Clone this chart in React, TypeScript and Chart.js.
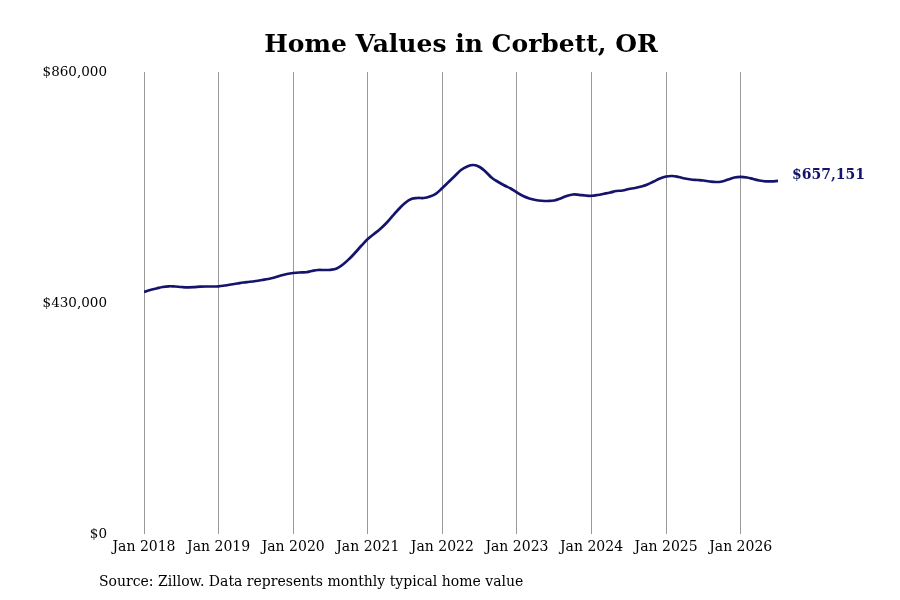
import React, { useEffect, useRef } from "react";
import { Chart, registerables } from "chart.js";

Chart.register(...registerables);

// Monthly typical home value, Jan 2018 .. Jul 2026
const startYear = 2018;
const homeValues: number[] = [
  450500, 454200, 457000, 459800, 461100, 460700, 459800, 459200, 459400, 460300, 460700, 460700,
  461100, 462600, 464400, 466300, 468200, 469500, 471000, 472800, 474700, 477500, 481200, 484000,
  485800, 486800, 487200, 489600, 491400, 491400, 491800, 494200, 501700, 511900, 524000, 537000,
  549100, 558500, 567800, 578900, 592000, 605000, 616200, 623600, 625500, 625500, 628300, 633800,
  644100, 655200, 666400, 677600, 684100, 686900, 683200, 673900, 662700, 655200, 648700, 643100,
  635700, 629200, 624500, 621700, 620300, 619900, 620800, 624500, 629200, 632000, 631400, 630100,
  629600, 631000, 633300, 635700, 638500, 639400, 642200, 644100, 646900, 650600, 656200, 661800,
  665500, 666400, 664600, 661800, 659900, 659000, 658000, 656200, 655200, 656200, 659900, 663600,
  664600, 663600, 660800, 658000, 656500, 656500, 657151,
];
const yTicks: number[] = [0, 430000, 860000];
const xTickMonths: number[] = [0, 12, 24, 36, 48, 60, 72, 84, 96];

const titleText = "Home Values in Corbett, OR";
const sourceText = "Source: Zillow. Data represents monthly typical home value";
const lineColor = "#15146c";
const fontFamily = "'DejaVu Serif', serif";

const fmt = (v: number) => "$" + Math.round(v).toLocaleString("en-US");

const App: React.FC = () => {
  const chartRef = useRef<HTMLCanvasElement | null>(null);
  const chartInstance = useRef<Chart | null>(null);

  useEffect(() => {
    document.body.style.margin = "0";
    if (!chartRef.current) return;
    const ctx = chartRef.current.getContext("2d");
    if (!ctx) return;
    if (chartInstance.current) chartInstance.current.destroy();

    const points = homeValues.map((v, i) => ({ x: i, y: v }));

    const extras = {
      id: "extras",
      afterDraw(chart: Chart) {
        const c = chart.ctx;
        const area = chart.chartArea;
        c.save();
        // title
        c.fillStyle = "#000";
        c.font = `bold 25px ${fontFamily}`;
        c.textAlign = "center";
        c.textBaseline = "middle";
        c.fillText(titleText, (area.left + area.right) / 2, 45);
        // source
        c.font = `14px ${fontFamily}`;
        c.textAlign = "left";
        c.fillText(sourceText, 99, 582);
        // end label
        const meta = chart.getDatasetMeta(0);
        const last = meta.data[meta.data.length - 1];
        c.fillStyle = lineColor;
        c.font = `bold 14px ${fontFamily}`;
        c.fillText(fmt(homeValues[homeValues.length - 1]), last.x + 14, last.y - 6);
        c.restore();
      },
    };

    chartInstance.current = new Chart(ctx, {
      type: "line",
      data: {
        datasets: [
          {
            data: points,
            borderColor: lineColor,
            borderWidth: 2.7,
            pointRadius: 0,
            tension: 0.4,
            fill: false,
          },
        ],
      },
      options: {
        responsive: false,
        animation: false,
        layout: { padding: { top: 72, right: 122, bottom: 0, left: 0 } },
        plugins: {
          legend: { display: false },
          tooltip: { enabled: false },
          title: { display: false },
        },
        scales: {
          x: {
            type: "linear",
            min: 0,
            max: homeValues.length - 1,
            afterBuildTicks: (scale: any) => {
              scale.ticks = xTickMonths.map((v) => ({ value: v }));
            },
            afterFit: (scale: any) => {
              scale.height = 66;
            },
            grid: { color: "#999999", lineWidth: 1, drawTicks: false },
            border: { display: false },
            ticks: {
              color: "#000",
              font: { family: fontFamily, size: 14 },
              padding: 5,
              maxRotation: 0,
              autoSkip: false,
              callback: (v: any) => "Jan " + (startYear + Math.round(Number(v) / 12)),
            },
          },
          y: {
            min: 0,
            max: 860000,
            afterBuildTicks: (scale: any) => {
              scale.ticks = yTicks.map((v) => ({ value: v }));
            },
            afterFit: (scale: any) => {
              scale.width = 144;
            },
            grid: { display: false, drawTicks: false },
            border: { display: false },
            ticks: {
              color: "#000",
              font: { family: fontFamily, size: 13.5 },
              padding: 37,
              callback: (v: any) => fmt(Number(v)),
            },
          },
        },
      },
      plugins: [extras],
    });

    return () => {
      if (chartInstance.current) {
        chartInstance.current.destroy();
        chartInstance.current = null;
      }
    };
  }, []);

  return (
    <div>
      <canvas ref={chartRef} width={900} height={600}></canvas>
    </div>
  );
};

export default App;
